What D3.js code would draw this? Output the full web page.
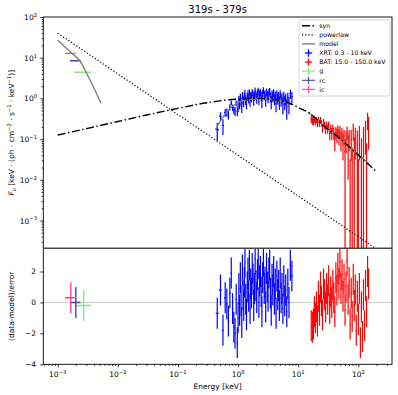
<!DOCTYPE html>
<html lang="en">
<head>
<meta charset="utf-8">
<title>319s - 379s</title>
<script src="https://d3js.org/d3.v7.min.js"></script>
<style>
  body { margin: 0; background: #fff; }
  text { font-family: "DejaVu Sans", sans-serif; fill: #000; }
</style>
</head>
<body>
<script>
// ---- model curves (energy keV, flux) ----
const synE = [0.001, 0.003, 0.01, 0.03, 0.1, 0.3, 0.6, 1, 2, 3, 5, 7.2, 10, 15.5, 25.8, 48.6, 92, 194];
const synF = [0.126, 0.181, 0.27, 0.39, 0.57, 0.78, 0.9, 0.96, 1.0, 0.98, 0.88, 0.76, 0.60, 0.43, 0.22, 0.105, 0.045, 0.0165];
const plE = [0.001, 200];
const plF = [40, 0.0002];
const modelOptE = [0.001, 0.00171, 0.00235, 0.00303, 0.004, 0.00524];
const modelOptF = [27, 12.8, 8.3, 4.1, 1.8, 0.76];
const modelXrtE = [0.42, 0.5, 0.6, 0.7, 0.8, 0.9, 1.0, 1.2, 1.5, 2, 3, 5, 8];
const modelXrtF = [0.17, 0.27, 0.40, 0.52, 0.63, 0.72, 0.79, 0.88, 0.94, 0.98, 0.98, 0.88, 0.70];
const modelBatE = [15, 25.8, 48.6, 92, 150];
const modelBatF = [0.45, 0.22, 0.105, 0.045, 0.025];

// ---- optical bands ----
const optBand = ["g", "rc", "ic"];
const optColor = ["#80ec80", "#46469c", "#ff40a0"];
const optE = [0.0027, 0.0020, 0.00165];
const optElo = [0.0019, 0.0016, 0.00132];
const optEhi = [0.0036, 0.0024, 0.0020];
const optF = [4.4, 8.4, 12.8];
const optFerr = [0.12, 0.2, 0.3];
const optRes = [-0.2, 0.0, 0.3];

// ---- XRT ----
const xrtE = [0.45,0.51,0.56,0.61,0.65,0.69,0.73,0.77,0.81,0.85,0.89,0.93,0.97,
  1.00,1.03,1.06,1.09,1.12,1.15,1.18,1.21,1.24,1.27,
  1.30,1.34,1.38,1.42,1.46,1.50,1.54,1.58,1.62,1.67,
  1.72,1.77,1.82,1.87,1.92,1.98,2.04,2.10,2.16,2.22,
  2.28,2.35,2.42,2.49,2.56,2.64,2.72,2.80,2.88,2.97,
  3.06,3.15,3.25,3.35,3.45,3.56,3.67,3.78,3.90,4.02,
  4.15,4.28,4.42,4.56,4.71,4.86,5.02,5.19,5.37,5.56,
  5.76,5.97,6.20,6.45,6.72,7.02,7.40,7.85];
const xrtF = [0.171,0.364,0.216,0.447,0.461,0.402,0.61,0.78,0.60,0.52,0.49,0.762,0.484,
  0.65,0.96,0.74,1.10,0.845,0.645,1.22,0.935,0.838,1.12,
  1.38,0.932,0.782,1.11,1.32,1.008,1.42,0.882,1.19,1.062,
  1.41,1.27,0.936,1.15,1.56,1.2,1.031,1.37,1.52,0.99,
  1.29,1.43,1.15,0.87,1.34,1.58,1.19,1.27,0.92,1.46,
  1.2,1.06,1.37,1.50,1.09,0.84,1.29,1.11,1.38,0.97,
  1.18,0.76,1.29,1.0,1.13,0.82,1.29,0.92,1.05,0.72,
  1.14,0.82,0.98,0.62,1.05,0.73,1.30,1.10];
const xrtErr = [0.08,0.09,0.09,0.10,0.10,0.10,0.11,0.11,0.11,0.11,0.12,0.12,0.12,
  0.19,0.19,0.20,0.21,0.21,0.21,0.22,0.22,0.23,0.23,
  0.24,0.24,0.25,0.25,0.25,0.26,0.26,0.26,0.27,0.27,
  0.27,0.28,0.28,0.28,0.29,0.29,0.29,0.29,0.30,0.30,
  0.30,0.30,0.30,0.30,0.30,0.30,0.30,0.30,0.30,0.30,
  0.30,0.30,0.30,0.30,0.30,0.30,0.30,0.30,0.30,0.30,
  0.30,0.30,0.30,0.30,0.30,0.30,0.30,0.30,0.31,0.31,
  0.31,0.31,0.32,0.32,0.32,0.32,0.33,0.33];
const xrtRes = [-0.7,0.8,-1.8,0.3,-0.1,-1.2,0.6,1.9,-0.4,-1.6,-2.0,0.2,-2.6,
  -1.0,0.9,-0.5,1.6,0.1,-1.3,2.1,0.5,-0.2,1.3,
  2.6,0.2,-0.8,1.0,1.9,0.4,2.4,-0.4,1.2,0.6,
  2.2,1.5,-0.2,0.9,2.8,1.1,0.3,1.8,2.5,0.0,
  1.4,2.0,0.7,-0.6,1.6,2.7,0.9,1.3,-0.3,2.2,
  1.0,0.4,1.9,2.4,0.6,-0.5,1.5,0.8,2.0,0.2,
  1.2,-0.7,1.7,0.5,1.1,-0.2,1.9,0.3,0.9,-0.4,
  1.4,0.1,0.8,-0.6,1.2,0.0,2.4,1.7];

// ---- BAT ----
const batE = [16.5,17.2,17.9,18.6,19.3,20.1,20.9,21.7,22.6,23.5,
  24.4,25.4,26.4,27.5,28.6,29.7,30.9,32.1,33.4,34.7,
  36.1,37.6,39.1,40.6,42.3,44.0,45.7,47.5,49.4,51.4,
  53.5,55.6,57.8,60.1,62.5,65.0,67.6,70.3,73.1,76.1,
  79.1,82.3,85.6,89.0,92.5,96.2,100.1,104.1,108.2,112.6,
  117.1,121.8,126.6,131.7,137.0,142.4,148.0];
const batF = [0.31,0.284,0.276,0.31,0.275,0.30,0.246,0.303,0.247,0.30,
  0.245,0.189,0.269,0.223,0.176,0.22,0.181,0.227,0.138,0.18,
  0.141,0.184,0.142,0.095,0.15,0.13,0.17,0.12,0.16,0.10,
  0.14,0.08,0.12,0.05,0.10,0.15,0.07,0.11,-0.038,0.099,
  -0.008,0.165,0.034,0.111,-0.099,0.077,-0.058,0.12,-0.21,0.005,
  -0.187,0.087,-0.15,0.161,-0.051,0.306,0.205];
const batErr = [0.06,0.06,0.06,0.055,0.055,0.05,0.05,0.05,0.05,0.05,
  0.045,0.045,0.045,0.045,0.045,0.045,0.045,0.045,0.045,0.045,
  0.045,0.045,0.045,0.045,0.05,0.05,0.05,0.05,0.05,0.05,
  0.05,0.05,0.05,0.05,0.055,0.055,0.06,0.06,0.07,0.07,
  0.07,0.075,0.075,0.08,0.08,0.085,0.09,0.09,0.095,0.10,
  0.10,0.11,0.12,0.12,0.13,0.14,0.15];
const batRes = [-1.5,-1.6,-1.4,-0.6,-1.0,-0.3,-1.2,0.4,-0.5,1.0,
  0.1,-0.8,1.2,0.5,-0.3,0.9,0.2,1.4,-0.4,0.7,
  0.0,1.1,0.3,-0.6,1.6,0.8,2.2,1.2,2.6,0.9,
  1.8,0.4,1.5,-0.5,1.0,2.7,0.2,1.3,-1.4,0.6,
  -0.9,1.5,-0.2,0.8,-1.8,0.4,-1.1,0.9,-2.6,-0.3,
  -2.2,0.5,-1.5,1.1,-0.6,2.0,1.2];

const legendLabels = ["syn", "powerlaw", "model", "XRT: 0.3 - 10 keV", "BAT: 15.0 - 150.0 keV", "g", "rc", "ic"];
const xDecades = [-3, -2, -1, 0, 1, 2];
const yDecades = [-3, -2, -1, 0, 1, 2];
const resTicks = [-4, -2, 0, 2];

// ---- layout ----
const W = 398, H = 395;
const L = 43.3, R = 392, T1 = 17, B1 = 248.3, B2 = 364.3;

const x = d3.scaleLog().domain([Math.pow(10, -3.24), Math.pow(10, 2.56)]).range([L, R]);
const yT = d3.scaleLog().domain([Math.pow(10, -3.683), 100]).range([B1, T1]);
const yB = d3.scaleLinear().domain([-4, 3.5]).range([B2, B1]);

const svg = d3.select("body").append("svg").attr("width", W).attr("height", H);
const defs = svg.append("defs");
defs.append("clipPath").attr("id", "ct").append("rect")
  .attr("x", L).attr("y", T1).attr("width", R - L).attr("height", B1 - T1);
defs.append("clipPath").attr("id", "cb").append("rect")
  .attr("x", L).attr("y", B1).attr("width", R - L).attr("height", B2 - B1);

// rich text with sub/superscripts
function rich(sel, parts, size) {
  let shift = 0;
  parts.forEach(([t, k, it]) => {
    const target = k === "sup" ? -size * 0.42 : k === "sub" ? size * 0.22 : 0;
    const ts = sel.append("tspan").text(t).attr("dy", target - shift);
    if (k) ts.attr("font-size", size * 0.7);
    if (it) ts.attr("font-style", "italic");
    shift = target;
  });
}

function edges(E) {
  return E.map((e, i) => {
    const prev = i > 0 ? E[i - 1] : e * e / E[i + 1];
    const next = i < E.length - 1 ? E[i + 1] : e * e / E[i - 1];
    return [Math.sqrt(prev * e), Math.sqrt(e * next)];
  });
}

// errorbar crosses
function crosses(g, pts, y, logY, color, lw) {
  const ymin = y.domain()[0];
  g.selectAll(null).data(pts.filter(d => !logY || d.f + d.d > 0)).join("line")
    .attr("x1", d => x(d.e)).attr("x2", d => x(d.e))
    .attr("y1", d => y(logY ? Math.max(d.f - d.d, ymin * 0.5) : d.f - d.d))
    .attr("y2", d => y(d.f + d.d))
    .attr("stroke", color).attr("stroke-width", lw);
  g.selectAll(null).data(pts.filter(d => !logY || d.f > 0)).join("line")
    .attr("x1", d => x(d.lo)).attr("x2", d => x(d.hi))
    .attr("y1", d => y(d.f)).attr("y2", d => y(d.f))
    .attr("stroke", color).attr("stroke-width", lw);
}

function points(E, F, D) {
  const ed = edges(E);
  return E.map((e, i) => ({ e, lo: ed[i][0], hi: ed[i][1], f: F[i], d: D[i] }));
}

const ones = n => new Array(n).fill(1);

// ---- top panel ----
const gt = svg.append("g").attr("clip-path", "url(#ct)");
crosses(gt, points(xrtE, xrtF, xrtErr), yT, true, "#0000ff", 1.2);
crosses(gt, points(batE, batF, batErr), yT, true, "#ff0000", 1.2);
optBand.forEach((b, i) => {
  crosses(gt, [{ e: optE[i], lo: optElo[i], hi: optEhi[i], f: optF[i], d: optFerr[i] }], yT, true, optColor[i], 1.4);
});

const lineT = d3.line().x(d => x(d[0])).y(d => yT(d[1])).curve(d3.curveMonotoneX);
[[modelOptE, modelOptF], [modelXrtE, modelXrtF], [modelBatE, modelBatF]].forEach(([e, f]) => {
  gt.append("path").attr("d", lineT(d3.zip(e, f)))
    .attr("fill", "none").attr("stroke", "#808080").attr("stroke-width", 1.4);
});
gt.append("path").attr("d", lineT(d3.zip(synE, synF)))
  .attr("fill", "none").attr("stroke", "#000").attr("stroke-width", 1.4)
  .attr("stroke-dasharray", "8,2.5,1.5,2.5");
gt.append("path").attr("d", d3.line().x(d => x(d[0])).y(d => yT(d[1]))(d3.zip(plE, plF)))
  .attr("fill", "none").attr("stroke", "#000").attr("stroke-width", 1.2)
  .attr("stroke-dasharray", "1.2,2");

// ---- bottom panel ----
const gb = svg.append("g").attr("clip-path", "url(#cb)");
gb.append("line").attr("x1", L).attr("x2", R).attr("y1", yB(0)).attr("y2", yB(0))
  .attr("stroke", "#999").attr("stroke-width", 1).attr("stroke-dasharray", "1,1");
crosses(gb, points(xrtE, xrtRes, ones(xrtE.length)), yB, false, "#0000ff", 1.2);
crosses(gb, points(batE, batRes, ones(batE.length)), yB, false, "#ff0000", 1.2);
optBand.forEach((b, i) => {
  crosses(gb, [{ e: optE[i], lo: optElo[i], hi: optEhi[i], f: optRes[i], d: 1 }], yB, false, optColor[i], 1.4);
});

// ---- axes ----
const fs = 7.5;
const minorX = [];
for (let dd = -4; dd <= 2; dd++) for (let k = 2; k <= 9; k++) {
  const v = k * Math.pow(10, dd);
  if (v > x.domain()[0] && v < x.domain()[1]) minorX.push(v);
}
const minorY = [];
for (let dd = -4; dd <= 1; dd++) for (let k = 2; k <= 9; k++) {
  const v = k * Math.pow(10, dd);
  if (v > yT.domain()[0] && v < yT.domain()[1]) minorY.push(v);
}

svg.append("g").attr("transform", `translate(0,${B2})`)
  .call(d3.axisBottom(x).tickValues(xDecades.map(p => Math.pow(10, p))).tickSize(3).tickFormat(""));
svg.append("g").attr("transform", `translate(0,${B2})`)
  .call(d3.axisBottom(x).tickValues(minorX).tickSize(1.6).tickFormat(""));
xDecades.forEach(p => {
  const t = svg.append("text").attr("x", x(Math.pow(10, p))).attr("y", 377)
    .attr("text-anchor", "middle").attr("font-size", fs);
  rich(t, [["10", ""], [p < 0 ? "\u2212" + (-p) : String(p), "sup"]], fs);
});

svg.append("g").attr("transform", `translate(${L},0)`)
  .call(d3.axisLeft(yT).tickValues(yDecades.map(p => Math.pow(10, p))).tickSize(3).tickFormat(""));
svg.append("g").attr("transform", `translate(${L},0)`)
  .call(d3.axisLeft(yT).tickValues(minorY).tickSize(1.6).tickFormat(""));
yDecades.forEach(p => {
  const t = svg.append("text").attr("x", 37).attr("y", yT(Math.pow(10, p)) + 3)
    .attr("text-anchor", "end").attr("font-size", fs);
  rich(t, [["10", ""], [p < 0 ? "\u2212" + (-p) : String(p), "sup"]], fs);
});

svg.append("g").attr("transform", `translate(${L},0)`)
  .call(d3.axisLeft(yB).tickValues(resTicks).tickSize(3).tickFormat(""));
resTicks.forEach(v => {
  svg.append("text").attr("x", 36).attr("y", yB(v) + 2.7)
    .attr("text-anchor", "end").attr("font-size", fs)
    .text(v < 0 ? "\u2212" + (-v) : String(v));
});

svg.selectAll(".domain").remove();
svg.selectAll(".tick line").attr("stroke", "#000").attr("stroke-width", 0.8);

// frames
svg.append("rect").attr("x", L).attr("y", T1).attr("width", R - L).attr("height", B2 - T1)
  .attr("fill", "none").attr("stroke", "#000").attr("stroke-width", 0.9);
svg.append("line").attr("x1", L).attr("x2", R).attr("y1", B1).attr("y2", B1)
  .attr("stroke", "#444").attr("stroke-width", 1.4);

// labels
svg.append("text").attr("x", (L + R) / 2).attr("y", 13).attr("text-anchor", "middle")
  .attr("font-size", 10).text("319s - 379s");
svg.append("text").attr("x", (L + R) / 2).attr("y", 389).attr("text-anchor", "middle")
  .attr("font-size", fs).text("Energy [keV]");
const yl = svg.append("text").attr("transform", `translate(14,${(T1 + B1) / 2}) rotate(-90)`)
  .attr("text-anchor", "middle").attr("font-size", fs);
rich(yl, [["F", "", true], ["\u03bd", "sub", true], [" [keV \u00b7 (ph \u00b7 cm", ""], ["\u22122", "sup"],
  [" \u00b7 s", ""], ["\u22121", "sup"], [" \u00b7 keV", ""], ["\u22121", "sup"], [")]", ""]], fs);
svg.append("text").attr("transform", `translate(14,${(B1 + B2) / 2}) rotate(-90)`)
  .attr("text-anchor", "middle").attr("font-size", fs).text("(data-model)/error");

// ---- legend ----
const lg = svg.append("g");
lg.append("rect").attr("x", 299).attr("y", 20).attr("width", 91).attr("height", 76).attr("rx", 2)
  .attr("fill", "#fff").attr("fill-opacity", 0.8).attr("stroke", "#ccc").attr("stroke-width", 0.8);
const rowY = i => 25.7 + i * 9.1;
const hx0 = 302, hx1 = 315, hxc = 308.5;
lg.append("line").attr("x1", hx0).attr("x2", hx1).attr("y1", rowY(0)).attr("y2", rowY(0))
  .attr("stroke", "#000").attr("stroke-width", 1.4).attr("stroke-dasharray", "8,2.5,1.5,2.5");
lg.append("line").attr("x1", hx0).attr("x2", hx1).attr("y1", rowY(1)).attr("y2", rowY(1))
  .attr("stroke", "#000").attr("stroke-width", 1.2).attr("stroke-dasharray", "1.2,2");
lg.append("line").attr("x1", hx0).attr("x2", hx1).attr("y1", rowY(2)).attr("y2", rowY(2))
  .attr("stroke", "#808080").attr("stroke-width", 1.4);
const crossCols = ["#0000ff", "#ff0000"].concat(optColor);
crossCols.forEach((c, j) => {
  const yy = rowY(3 + j);
  const half = j < 2 ? 3.7 : 6.5;
  lg.append("line").attr("x1", hxc - half).attr("x2", hxc + half).attr("y1", yy).attr("y2", yy)
    .attr("stroke", c).attr("stroke-width", j < 2 ? 1.3 : 1.1);
  lg.append("line").attr("x1", hxc).attr("x2", hxc).attr("y1", yy - 3.7).attr("y2", yy + 3.7)
    .attr("stroke", c).attr("stroke-width", j < 2 ? 1.3 : 1.1);
});
legendLabels.forEach((t, i) => {
  lg.append("text").attr("x", 319.3).attr("y", rowY(i) + 2.2).attr("font-size", 6.2).text(t);
});
</script>
</body>
</html>
